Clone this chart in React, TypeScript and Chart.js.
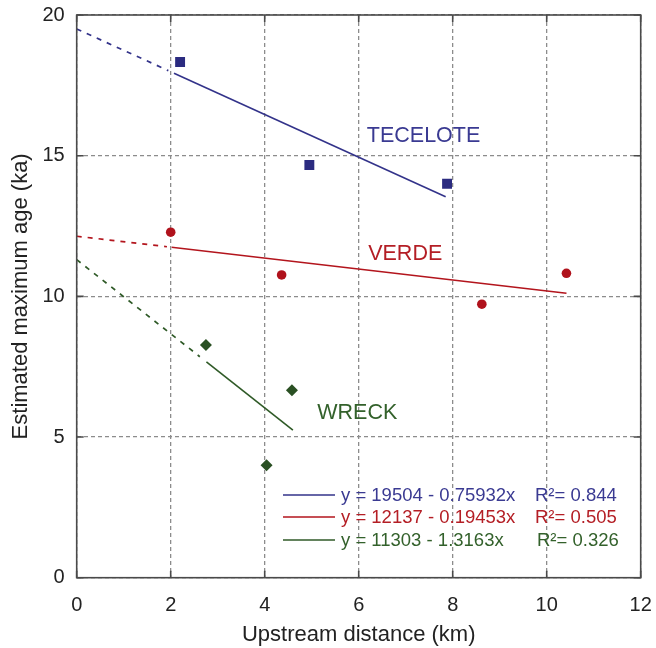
import React, { useEffect, useRef } from "react";
import { Chart, registerables } from "chart.js";

Chart.register(...registerables);

// ---------- data ----------
const seriesNames = ["TECELOTE", "VERDE", "WRECK"];
const tecX = [2.2, 4.95, 7.88];
const tecY = [18.33, 14.67, 14.0];
const verX = [2.0, 4.36, 8.62, 10.42];
const verY = [12.28, 10.76, 9.72, 10.82];
const wreX = [2.75, 4.58, 4.04];
const wreY = [8.27, 6.66, 4.0];

// regression fits (ka vs km)
const fitIntercepts = [19.504, 12.137, 11.303];
const fitSlopes = [-0.75932, -0.19453, -1.3163];
const fitSolidStart = [2.07, 2.02, 2.76];
const fitSolidEnd = [7.85, 10.42, 4.6];
const fitDashEnd = [1.95, 1.92, 2.62];

const legendEquations = [
  "y = 19504 - 0.75932x",
  "y = 12137 - 0.19453x",
  "y = 11303 - 1.3163x",
];
const legendR2 = ["R\u00b2= 0.844", "R\u00b2= 0.505", "R\u00b2= 0.326"];

const labelX = [7.38, 6.99, 5.97];
const labelY = [15.69, 11.52, 5.84];

const xTicks = [0, 2, 4, 6, 8, 10, 12];
const yTicks = [0, 5, 10, 15, 20];

const lineColors = ["#33338a", "#b3151d", "#2f5a27"];
const markerColors = ["#2b2b80", "#b0121c", "#2a5023"];
const textColors = ["#3a3a92", "#b41e25", "#33612b"];
const markerStyles = ["rect", "circle", "rectRot"];
const markerRadii = [7, 4.8, 6];

const FONT = "'Liberation Sans', Arial, Helvetica, sans-serif";

const pts = (xs: number[], ys: number[]) => xs.map((x, i) => ({ x, y: ys[i] }));
const fitLine = (i: number, x0: number, x1: number) => [
  { x: x0, y: fitIntercepts[i] + fitSlopes[i] * x0 },
  { x: x1, y: fitIntercepts[i] + fitSlopes[i] * x1 },
];

const zeroPad = (s: any) => {
  s.paddingTop = 0;
  s.paddingBottom = 0;
  s.paddingLeft = 0;
  s.paddingRight = 0;
};

const overlayPlugin = {
  id: "overlay",
  afterDatasetsDraw(chart: any) {
    const { ctx, chartArea } = chart;
    const xs = chart.scales.x;
    const ys = chart.scales.y;
    ctx.save();
    // frame
    ctx.strokeStyle = "#4a4a4a";
    ctx.lineWidth = 1.6;
    ctx.setLineDash([]);
    ctx.strokeRect(chartArea.left, chartArea.top, chartArea.right - chartArea.left, chartArea.bottom - chartArea.top);
    // inward ticks
    const tl = 7;
    ctx.beginPath();
    xTicks.forEach((v) => {
      const px = xs.getPixelForValue(v);
      ctx.moveTo(px, chartArea.bottom);
      ctx.lineTo(px, chartArea.bottom - tl);
      ctx.moveTo(px, chartArea.top);
      ctx.lineTo(px, chartArea.top + tl);
    });
    yTicks.forEach((v) => {
      const py = ys.getPixelForValue(v);
      ctx.moveTo(chartArea.left, py);
      ctx.lineTo(chartArea.left + tl, py);
      ctx.moveTo(chartArea.right, py);
      ctx.lineTo(chartArea.right - tl, py);
    });
    ctx.stroke();

    // series labels
    ctx.font = `21.5px ${FONT}`;
    ctx.textAlign = "center";
    ctx.textBaseline = "middle";
    seriesNames.forEach((n, i) => {
      ctx.fillStyle = textColors[i];
      ctx.fillText(n, xs.getPixelForValue(labelX[i]), ys.getPixelForValue(labelY[i]));
    });

    // legend
    const lx0 = 283, lx1 = 335, ty = [495, 517, 540];
    ctx.font = `18.5px ${FONT}`;
    ctx.textAlign = "left";
    legendEquations.forEach((eq, i) => {
      ctx.strokeStyle = lineColors[i];
      ctx.lineWidth = 1.5;
      ctx.beginPath();
      ctx.moveTo(lx0, ty[i]);
      ctx.lineTo(lx1, ty[i]);
      ctx.stroke();
      ctx.fillStyle = textColors[i];
      ctx.fillText(eq, 341, ty[i] + 1);
      ctx.fillText(legendR2[i], i === 2 ? 537 : 535, ty[i] + 1);
    });
    ctx.restore();
  },
};

export default function App() {
  const ref = useRef<HTMLCanvasElement>(null);
  useEffect(() => {
    if (!ref.current) return;
    const datasets: any[] = [];
    [0, 1, 2].forEach((i) => {
      datasets.push({
        type: "line",
        data: fitLine(i, 0, fitDashEnd[i]),
        borderColor: lineColors[i],
        borderWidth: 1.7,
        borderDash: [5, 6],
        pointRadius: 0,
        showLine: true,
        fill: false,
      });
      datasets.push({
        type: "line",
        data: fitLine(i, fitSolidStart[i], fitSolidEnd[i]),
        borderColor: lineColors[i],
        borderWidth: 1.6,
        pointRadius: 0,
        showLine: true,
        fill: false,
      });
    });
    const series = [pts(tecX, tecY), pts(verX, verY), pts(wreX, wreY)];
    series.forEach((d, i) => {
      datasets.push({
        type: "scatter",
        data: d,
        pointStyle: markerStyles[i],
        pointRadius: markerRadii[i],
        pointBackgroundColor: markerColors[i],
        pointBorderColor: markerColors[i],
        pointBorderWidth: 0,
        showLine: false,
      });
    });

    const chart = new Chart(ref.current, {
      type: "scatter",
      data: { datasets },
      plugins: [overlayPlugin],
      options: {
        animation: false,
        responsive: false,
        devicePixelRatio: 1,
        layout: { padding: { top: 15, right: 15.3, left: 0, bottom: 0 } },
        plugins: { legend: { display: false }, tooltip: { enabled: false } },
        scales: {
          x: {
            type: "linear",
            min: 0,
            max: 12,
            afterFit: (s: any) => {
              s.height = 70.3;
              zeroPad(s);
            },
            afterBuildTicks: (s: any) => {
              s.ticks = xTicks.map((v) => ({ value: v }));
            },
            ticks: {
              color: "#222",
              font: { family: FONT, size: 20 },
              padding: 16,
            },
            grid: {
              color: "#8c8c8c",
              lineWidth: 1.3,
              drawTicks: false,
            },
            border: { display: false, dash: [4, 3] },
            title: {
              display: true,
              text: "Upstream distance (km)",
              color: "#222",
              font: { family: FONT, size: 22 },
              padding: { top: 0, bottom: 0 },
            },
          },
          y: {
            type: "linear",
            min: 0,
            max: 20,
            afterFit: (s: any) => {
              s.width = 76.7;
              zeroPad(s);
            },
            afterBuildTicks: (s: any) => {
              s.ticks = yTicks.map((v) => ({ value: v }));
            },
            ticks: {
              color: "#222",
              font: { family: FONT, size: 20 },
              padding: 12,
            },
            grid: {
              color: "#8c8c8c",
              lineWidth: 1.3,
              drawTicks: false,
            },
            border: { display: false, dash: [4, 3] },
            title: {
              display: true,
              text: "Estimated maximum age (ka)",
              color: "#222",
              font: { family: FONT, size: 22 },
              padding: { top: 8, bottom: 0 },
            },
          },
        },
      },
    });
    return () => chart.destroy();
  }, []);

  return (
    <div style={{ position: "fixed", left: 0, top: 0, width: 656, height: 648, background: "#fff" }}>
      <canvas ref={ref} width={656} height={648} style={{ width: 656, height: 648 }} />
    </div>
  );
}
